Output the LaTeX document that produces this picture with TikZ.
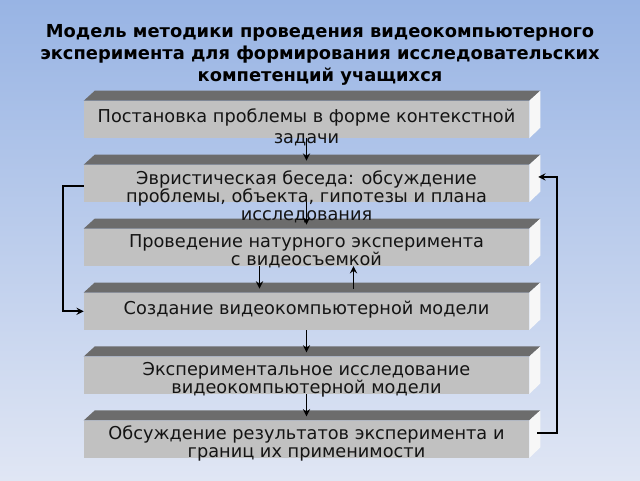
\documentclass[tikz,border=0pt]{standalone}
\usepackage{fontspec}
\setmainfont{DejaVu Sans}
\usetikzlibrary{positioning, arrows, calc}

\definecolor{faceGray}{RGB}{193,193,193}
\definecolor{topGray}{RGB}{108,108,108}
\definecolor{sideWhite}{RGB}{247,247,247}
\definecolor{bgTop}{RGB}{152,180,228}
\definecolor{bgBottom}{RGB}{224,230,244}

\tikzset{
  stage/.style={rectangle, fill=faceGray, minimum width=333.75pt, minimum height=27.75pt, inner sep=0pt},
  stagetext/.style={font=\fontsize{13.3}{13.5}\selectfont, align=center, inner sep=0pt, text=black!92},
  link/.style={->, >=stealth, line width=1.4pt}
}

\begin{document}
\begin{tikzpicture}[x=0.75pt, y=0.75pt, node distance=19.8pt]
    \shade[top color=bgTop, bottom color=bgBottom] (0,0) rectangle (640,480);
    \useasboundingbox (0,0) rectangle (640,480);

    \node[font=\bfseries\fontsize{13.4}{16.3}\selectfont, align=center] (title) at (320,425)
        {Модель методики проведения видеокомпьютерного\\
         эксперимента для формирования исследовательских\\
         компетенций учащихся};

    \node[stage] (b1) at (306.5,360.5) {};
    \node[stage, below=of b1] (b2) {};
    \node[stage, below=of b2] (b3) {};
    \node[stage, below=of b3] (b4) {};
    \node[stage, below=of b4] (b5) {};
    \node[stage, below=of b5] (b6) {};

    % top and side faces
    \foreach \b in {b1,b2,b3,b4,b5,b6}{
        \fill[topGray] (\b.north west) -- ++(11,10) -- ($(\b.north east)+(11,10)$) -- (\b.north east) -- cycle;
        \fill[sideWhite] (\b.north east) -- ++(11,10) -- ++(0,-37) -- (\b.south east) -- cycle;
    }

    \node[stagetext, below=6pt of b1.north] (t1) {Постановка проблемы в форме контекстной\\[2.25pt]задачи};
    \node[stagetext, below=4pt of b2.north] (t2) {Эвристическая беседа: обсуждение\\проблемы, объекта, гипотезы и плана\\исследования};
    \node[stagetext, below=4pt of b3.north] (t3) {Проведение натурного эксперимента\\с видеосъемкой};
    \node[stagetext, below=6pt of b4.north] (t4) {Создание видеокомпьютерной модели};
    \node[stagetext, below=4pt of b5.north] (t5) {Экспериментальное исследование\\видеокомпьютерной модели};
    \node[stagetext, below=4pt of b6.north] (t6) {Обсуждение результатов эксперимента и\\границ их применимости};

    \draw[link] (b1.south) -- ([yshift=3pt]b2.north);
    \draw[link] (b2.south) -- ([yshift=3pt]b3.north);
    \draw[link] ([xshift=-35.25pt]b3.south) -- ([xshift=-35.25pt,yshift=3pt]b4.north);
    \draw[link] ([xshift=35.25pt,yshift=3pt]b4.north) -- ([xshift=35.25pt]b3.south);
    \draw[link] (b4.south) -- ([yshift=3pt]b5.north);
    \draw[link] (b5.south) -- ([yshift=3pt]b6.north);
    \draw[link] ([yshift=-2pt]b2.west) -- ++(-15.75pt,0) |- (b4.west);
    \draw[link] ([shift={(6pt,4.5pt)}]b6.east) -- ++(15pt,0) |- ([shift={(6.75pt,4.9pt)}]b2.east);
\end{tikzpicture}
\end{document}
